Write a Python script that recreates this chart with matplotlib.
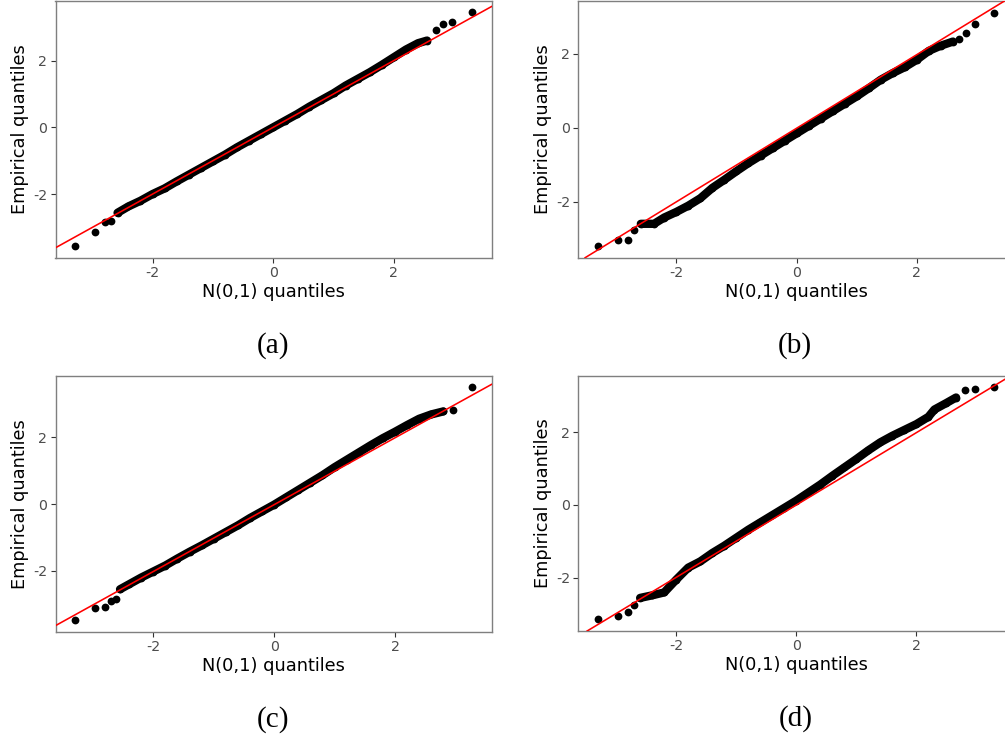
import matplotlib
matplotlib.use("Agg")
import matplotlib.pyplot as plt

# ---------------- data ----------------
# Panel (a)
a_band_x = [-2.58, -2.4, -2.2, -2.0, -1.8, -1.6, -1.4, -1.2, -1.0, -0.8, -0.6, -0.4, -0.2, 0.0,
            0.2, 0.4, 0.6, 0.8, 1.0, 1.2, 1.4, 1.6, 1.8, 2.0, 2.2, 2.4, 2.55]
a_band_y = [-2.56, -2.37, -2.2, -2.0, -1.83, -1.62, -1.42, -1.22, -1.02, -0.82, -0.6, -0.4, -0.2, 0.0,
            0.2, 0.4, 0.62, 0.82, 1.02, 1.25, 1.45, 1.65, 1.87, 2.1, 2.33, 2.52, 2.6]
a_tail_x = [-3.28, -2.95, -2.79, -2.69, 2.70, 2.81, 2.96, 3.29]
a_tail_y = [-3.55, -3.13, -2.84, -2.81, 2.93, 3.09, 3.15, 3.45]
a_line = (0.0, 1.0)   # intercept, slope

# Panel (b)
b_band_x = [-2.59, -2.37, -2.2, -2.0, -1.8, -1.6, -1.4, -1.2, -1.0, -0.8, -0.6, -0.4, -0.2, 0.0,
            0.2, 0.4, 0.6, 0.8, 1.0, 1.2, 1.4, 1.6, 1.8, 2.0, 2.2, 2.4, 2.6]
b_band_y = [-2.59, -2.59, -2.42, -2.27, -2.1, -1.9, -1.62, -1.4, -1.17, -0.95, -0.75, -0.55, -0.35, -0.15,
            0.05, 0.25, 0.45, 0.65, 0.85, 1.07, 1.3, 1.48, 1.64, 1.84, 2.08, 2.22, 2.33]
b_tail_x = [-3.30, -2.97, -2.81, -2.70, 2.70, 2.81, 2.97, 3.29]
b_tail_y = [-3.19, -3.02, -3.02, -2.75, 2.40, 2.56, 2.81, 3.11]
b_line = (-0.01, 0.994)

# Panel (c)
c_band_x = [-2.55, -2.4, -2.2, -2.0, -1.8, -1.6, -1.4, -1.2, -1.0, -0.8, -0.6, -0.4, -0.2, 0.0,
            0.2, 0.4, 0.6, 0.8, 1.0, 1.2, 1.4, 1.6, 1.8, 2.0, 2.2, 2.4, 2.6, 2.8]
c_band_y = [-2.55, -2.4, -2.2, -2.02, -1.84, -1.63, -1.43, -1.24, -1.04, -0.84, -0.64, -0.42, -0.22, -0.02,
            0.2, 0.42, 0.64, 0.86, 1.1, 1.32, 1.54, 1.76, 1.97, 2.16, 2.36, 2.55, 2.68, 2.77]
c_tail_x = [-3.29, -2.96, -2.80, -2.70, -2.62, 2.96, 3.27]
c_tail_y = [-3.48, -3.12, -3.08, -2.90, -2.85, 2.81, 3.49]
c_line = (-0.02, 1.0)

# Panel (d)
d_band_x = [-2.6, -2.4, -2.2, -2.0, -1.8, -1.6, -1.4, -1.2, -1.0, -0.8, -0.6, -0.4, -0.2, 0.0,
            0.2, 0.4, 0.6, 0.8, 1.0, 1.2, 1.4, 1.6, 1.8, 2.0, 2.2, 2.3, 2.5, 2.66]
d_band_y = [-2.55, -2.48, -2.4, -2.05, -1.72, -1.55, -1.32, -1.12, -0.9, -0.68, -0.48, -0.28, -0.08, 0.12,
            0.34, 0.56, 0.8, 1.03, 1.26, 1.5, 1.72, 1.9, 2.06, 2.22, 2.42, 2.62, 2.8, 2.95]
d_tail_x = [-3.30, -2.97, -2.81, -2.70, 2.81, 2.97, 3.30]
d_tail_y = [-3.14, -3.05, -2.95, -2.75, 3.16, 3.19, 3.23]
d_line = (0.0, 0.993)

panels = [
    ("(a)", a_band_x, a_band_y, a_tail_x, a_tail_y, a_line),
    ("(b)", b_band_x, b_band_y, b_tail_x, b_tail_y, b_line),
    ("(c)", c_band_x, c_band_y, c_tail_x, c_tail_y, c_line),
    ("(d)", d_band_x, d_band_y, d_tail_x, d_tail_y, d_line),
]

# ---------------- layout ----------------
W, H = 1005, 738
fig = plt.figure(figsize=(W / 100, H / 100), dpi=100)

# (left px, top px, bottom px) for each panel; width shared
boxes = [(55.5, 0.5, 257.5), (578.3, 1.0, 257.7), (55.5, 375.7, 632.0), (578.3, 375.7, 631.0)]
width_px = 436.0

for (cap, bx, by, tx, ty, (b0, b1)), (lpx, tpx, bpx) in zip(panels, boxes):
    ax = fig.add_axes([lpx / W, 1 - bpx / H, width_px / W, (bpx - tpx) / H])
    ax.plot(bx, by, color="black", lw=6.0, solid_capstyle="round", solid_joinstyle="round", zorder=2)
    ax.plot(bx + tx, by + ty, "o", color="black", ms=5.6, mew=0, zorder=2)
    ax.axline((0, b0), slope=b1, color="#FF0000", lw=1.15, zorder=3)
    ax.margins(0.05)
    ax.set_xticks([-2, 0, 2])
    ax.set_yticks([-2, 0, 2])
    ax.set_xticklabels(["-2", "0", "2"])
    ax.set_yticklabels(["-2", "0", "2"])
    ax.tick_params(direction="out", length=3.5, width=0.8, color="#333333",
                   labelcolor="#4D4D4D", labelsize=10.2, pad=2.5)
    for s in ax.spines.values():
        s.set_color("#7F7F7F")
        s.set_linewidth(1.0)
    ax.set_xlabel("N(0,1) quantiles", fontsize=12.8, color="black", labelpad=2)
    ax.set_ylabel("Empirical quantiles", fontsize=12.8, color="black", labelpad=3)
    cx = (lpx + 217) / W
    cy = 1 - (bpx + 88) / H
    fig.text(cx, cy, cap, ha="center", va="center", fontsize=21,
             family=["Liberation Serif", "DejaVu Serif"])

fig.savefig("out.png", dpi=100)
